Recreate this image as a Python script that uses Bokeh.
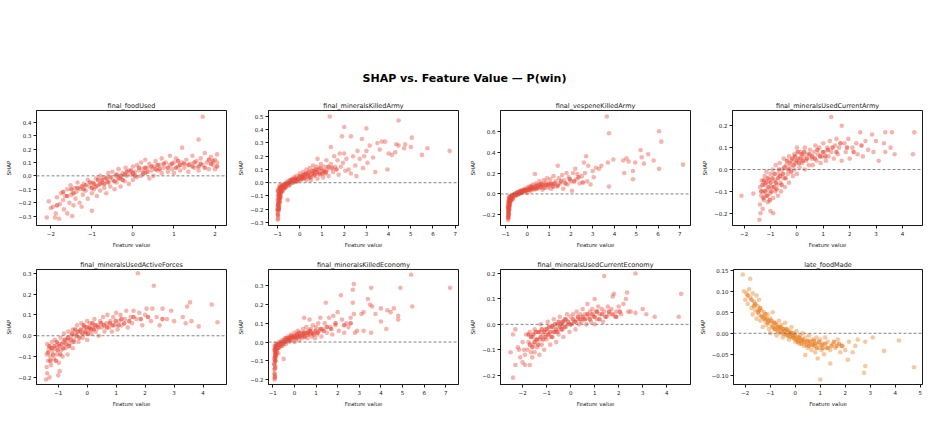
from bokeh.plotting import figure
from bokeh.models import Span, FixedTicker, CustomJSTickFormatter, Div, Range1d
from bokeh.layouts import column, row
from bokeh.embed import file_html
from bokeh.resources import INLINE

TITLE = "SHAP vs. Feature Value  \u2014  P(win)"
panel_titles = ["final_foodUsed", "final_mineralsKilledArmy", "final_vespeneKilledArmy",
                "final_mineralsUsedCurrentArmy", "final_mineralsUsedActiveForces",
                "final_mineralsKilledEconomy", "final_mineralsUsedCurrentEconomy", "late_foodMade"]

# ---- (feature value, SHAP) pairs, spread + outliers ----
food_used = [(-2.1,-0.31),(-2.05,-0.19),(-2.0,-0.24),(-1.95,-0.23),(-1.9,-0.31),(-1.88,-0.28),(-1.85,-0.16),
    (-1.8,-0.32),(-1.78,-0.21),(-1.75,-0.13),(-1.7,-0.18),(-1.68,-0.25),(-1.65,-0.15),(-1.6,-0.28),(-1.6,-0.1),
    (-1.55,-0.2),(-1.52,-0.07),(-1.5,-0.14),(-1.48,-0.3),(-1.45,-0.22),(-1.42,-0.09),(-1.4,-0.17),(-1.38,-0.12),
    (-1.35,-0.05),(-1.3,-0.2),(-1.3,-0.1),(-1.25,-0.23),(-1.22,-0.14),(-1.2,-0.06),(-1.15,-0.11),(-1.1,-0.17),
    (-1.1,-0.03),(-1.05,-0.08),(-1.0,-0.26),(-1.0,-0.13),(-0.98,-0.05),(-0.95,-0.1),(-0.9,-0.02),(-0.88,-0.15),
    (-0.85,-0.07),(-0.8,-0.11),(-0.8,0.0),(-0.75,-0.05),(-0.7,-0.09),(-0.7,-0.01),(-0.65,-0.13),(-0.62,-0.04),
    (-0.6,0.02),(-0.55,-0.08),(-0.5,-0.03),(-0.5,0.03),(-0.45,-0.1),(-0.42,0.0),(-0.4,-0.05),(-0.35,0.05),
    (-0.3,-0.02),(-0.3,-0.08),(-0.25,0.02),(-0.2,-0.04),(-0.18,0.06),(-0.15,0.0),(-0.1,-0.06),(-0.1,0.04),
    (-0.05,0.01),(0.0,0.07),(0.0,-0.03),(0.05,0.03),(0.1,-0.01),(0.1,0.08),(0.15,0.04),(0.2,0.0),(0.2,0.1),
    (0.25,0.05),(0.3,0.02),(0.3,0.12),(0.35,0.06),(0.4,-0.02),(0.4,0.09),(0.45,0.04),(0.5,0.07),(0.5,0.0),
    (0.55,0.11),(0.6,0.04),(0.65,0.08),(0.7,0.02),(0.7,0.13),(0.75,0.06),(0.8,0.1),(0.85,0.03),(0.9,0.08),
    (0.9,0.15),(0.95,0.05),(1.0,0.1),(1.0,0.02),(1.05,0.13),(1.1,0.07),(1.15,0.04),(1.2,0.21),(1.2,0.1),
    (1.25,0.06),(1.3,0.12),(1.35,0.03),(1.4,0.09),(1.45,0.15),(1.5,0.06),(1.55,0.11),(1.6,0.27),(1.6,0.04),
    (1.65,0.13),(1.7,0.44),(1.7,0.08),(1.75,0.17),(1.8,0.1),(1.85,0.05),(1.9,0.14),(1.95,0.08),(2.0,0.12),
    (2.0,0.05),(2.05,0.1),(2.05,0.16)]
food_used_core = [(-1.45,-0.13),(-1.35,-0.09),(-1.25,-0.08),(-1.15,-0.07),(-1.05,-0.05),(-0.95,-0.06),(-0.9,-0.08),
    (-0.85,-0.03),(-0.75,-0.03),(-0.7,-0.06),(-0.65,-0.02),(-0.6,-0.05),(-0.55,-0.01),(-0.45,-0.04),(-0.4,0.01),
    (-0.35,-0.02),(-0.25,-0.03),(-0.2,0.01),(-0.15,0.03),(-0.05,0.04),(0.05,0.0),(0.15,0.06),(0.25,0.02),
    (0.35,0.03),(0.45,0.07),(0.55,0.05),(0.6,0.08),(0.75,0.09),(0.85,0.06),(0.95,0.09),(1.05,0.06),(1.1,0.11),
    (1.25,0.09),(1.35,0.08),(1.45,0.07),(1.5,0.1),(1.65,0.09),(1.75,0.06),(1.85,0.12),(1.95,0.11),(2.05,0.07),
    (-1.6,-0.15),(-1.7,-0.12),(-1.85,-0.22),(-1.5,-0.1),(-1.2,-0.1),(-1.0,-0.09),(-0.8,-0.06),(-0.3,0.0),
    (0.0,0.02),(0.3,0.06),(0.65,0.05),(1.15,0.08),(1.6,0.07),(1.9,0.09)]

minerals_killed_army = [(-1.0,-0.28),(-0.98,-0.25),(-0.97,-0.27),(-1.0,-0.22),(-0.95,-0.2),(-0.99,-0.18),
    (-0.93,-0.17),(-0.97,-0.15),(-0.9,-0.14),(-1.0,-0.13),(-0.95,-0.12),(-0.88,-0.11),(-0.98,-0.1),(-0.92,-0.09),
    (-0.85,-0.08),(-0.96,-0.07),(-0.9,-0.06),(-0.82,-0.05),(-0.94,-0.04),(-0.86,-0.03),(-0.78,-0.04),(-0.9,-0.02),
    (-0.8,-0.02),(-0.75,-0.06),(-0.72,-0.03),(-0.7,-0.01),(-0.65,-0.04),(-0.62,0.0),(-0.6,-0.02),(-0.55,-0.13),
    (-0.55,0.01),(-0.5,-0.01),(-0.45,0.02),(-0.4,0.0),(-0.35,0.03),(-0.3,0.01),(-0.25,0.04),(-0.2,0.02),
    (-0.15,0.05),(-0.1,0.01),(-0.05,0.04),(0.0,0.03),(0.0,0.07),(0.05,0.02),(0.1,0.05),(0.15,0.08),(0.2,0.03),
    (0.25,0.06),(0.3,0.1),(0.3,0.02),(0.35,0.07),(0.4,0.04),(0.45,0.11),(0.5,0.06),(0.5,0.02),(0.55,0.09),
    (0.6,0.13),(0.65,0.05),(0.7,0.08),(0.75,0.12),(0.8,0.03),(0.8,0.18),(0.85,0.1),(0.9,0.06),(0.95,0.14),
    (1.0,0.09),(1.05,0.04),(1.1,0.12),(1.15,0.07),(1.2,0.17),(1.25,0.1),(1.3,0.05),(1.35,0.5),(1.4,0.14),
    (1.4,0.27),(1.5,0.08),(1.55,0.2),(1.6,0.12),(1.7,0.17),(1.75,0.06),(1.8,0.22),(1.85,0.12),(1.9,0.35),
    (1.95,0.15),(2.0,0.42),(2.0,0.22),(2.05,0.09),(2.1,0.18),(2.2,0.1),(2.3,0.35),(2.3,0.07),(2.4,0.2),
    (2.5,0.13),(2.55,0.05),(2.6,0.24),(2.7,0.18),(2.8,0.33),(2.85,0.11),(2.9,0.2),(3.0,0.41),(3.0,0.24),
    (3.05,0.15),(3.15,0.28),(3.3,0.19),(3.4,0.08),(3.5,0.3),(3.6,0.25),(3.7,0.31),(3.85,0.31),(3.95,0.1),
    (4.0,0.22),(4.15,0.21),(4.3,0.23),(4.35,0.29),(4.45,0.47),(4.45,0.28),(4.7,0.26),(4.75,0.29),(5.0,0.27),
    (5.05,0.34),(5.5,0.21),(5.75,0.26),(6.75,0.24)]
minerals_killed_army_core = [(-0.99,-0.24),(-0.96,-0.21),(-0.93,-0.19),(-0.97,-0.16),(-0.91,-0.15),(-0.95,-0.13),
    (-0.89,-0.12),(-0.93,-0.11),(-0.87,-0.1),(-0.91,-0.08),(-0.84,-0.07),(-0.88,-0.05),(-0.8,-0.06),(-0.84,-0.03),
    (-0.76,-0.02),(-0.7,-0.04),(-0.68,-0.02),(-0.63,-0.03),(-0.58,-0.01),(-0.52,0.0),(-0.48,-0.02),(-0.42,0.01),
    (-0.38,0.02),(-0.32,0.0),(-0.28,0.02),(-0.22,0.03),(-0.18,0.01),(-0.12,0.03),(-0.08,0.02),(0.02,0.05),
    (0.08,0.03),(0.12,0.04),(0.18,0.06),(0.22,0.04),(0.28,0.07),(0.38,0.05),(0.42,0.08),(0.48,0.04),(0.58,0.07),
    (0.62,0.09),(0.68,0.06),(0.72,0.1),(0.78,0.08),(0.88,0.07),(0.92,0.11),(1.02,0.07),(1.08,0.09),(1.18,0.08),
    (1.28,0.12),(1.45,0.11),(1.65,0.1),(-1.0,-0.2),(-0.98,-0.17),(-0.95,-0.09),(-0.9,-0.04),(-0.99,-0.06)]

vespene_killed_army = [(-0.88,-0.25),(-0.86,-0.22),(-0.85,-0.2),(-0.88,-0.18),(-0.84,-0.16),(-0.87,-0.14),
    (-0.82,-0.13),(-0.86,-0.11),(-0.8,-0.1),(-0.88,-0.09),(-0.83,-0.08),(-0.78,-0.07),(-0.86,-0.06),(-0.8,-0.05),
    (-0.75,-0.04),(-0.85,-0.03),(-0.72,-0.03),(-0.78,-0.02),(-0.68,-0.01),(-0.65,-0.04),(-0.6,0.0),(-0.55,-0.02),
    (-0.5,0.01),(-0.45,-0.01),(-0.4,0.02),(-0.35,0.0),(-0.3,0.03),(-0.25,0.01),(-0.2,0.04),(-0.15,0.02),
    (-0.1,0.05),(-0.05,0.03),(0.0,0.06),(0.0,0.01),(0.05,0.04),(0.1,0.07),(0.15,0.03),(0.2,0.06),(0.25,0.09),
    (0.3,0.04),(0.35,0.19),(0.35,0.07),(0.4,0.1),(0.45,0.05),(0.5,0.08),(0.55,0.12),(0.6,0.06),(0.65,0.1),
    (0.7,0.04),(0.75,0.13),(0.8,0.08),(0.85,0.11),(0.9,0.15),(0.95,0.06),(1.0,0.1),(1.05,0.14),(1.1,0.05),
    (1.15,0.09),(1.2,0.17),(1.3,0.12),(1.35,0.07),(1.4,0.27),(1.45,0.15),(1.5,0.1),(1.6,0.18),(1.65,0.05),
    (1.7,0.13),(1.8,0.2),(1.85,0.09),(1.9,0.16),(2.0,0.12),(2.05,0.03),(2.1,0.2),(2.2,0.24),(2.25,0.14),
    (2.3,0.19),(2.4,0.1),(2.5,0.17),(2.6,0.3),(2.65,0.2),(2.7,0.36),(2.75,0.12),(2.8,0.27),(2.9,0.09),
    (3.0,0.22),(3.05,0.16),(3.15,0.25),(3.3,0.24),(3.4,0.27),(3.65,0.74),(3.7,0.3),(3.75,0.58),(3.75,0.07),
    (3.95,0.33),(4.4,0.32),(4.45,0.2),(4.55,0.34),(4.65,0.31),(4.85,0.22),(4.85,0.14),(4.95,0.3),(5.2,0.42),
    (5.25,0.35),(5.35,0.29),(5.55,0.38),(5.8,0.32),(6.05,0.6),(6.05,0.24),(6.15,0.5),(7.15,0.28)]
vespene_killed_army_core = [(-0.87,-0.23),(-0.85,-0.19),(-0.87,-0.17),(-0.83,-0.15),(-0.86,-0.12),(-0.81,-0.11),
    (-0.85,-0.1),(-0.79,-0.08),(-0.84,-0.07),(-0.76,-0.06),(-0.82,-0.04),(-0.74,-0.02),(-0.7,-0.03),(-0.66,-0.02),
    (-0.62,-0.01),(-0.58,0.0),(-0.52,-0.01),(-0.48,0.01),(-0.42,0.0),(-0.38,0.02),(-0.32,0.01),(-0.28,0.03),
    (-0.22,0.02),(-0.18,0.03),(-0.12,0.04),(-0.08,0.03),(0.02,0.04),(0.08,0.05),(0.12,0.04),(0.18,0.07),
    (0.22,0.05),(0.28,0.06),(0.38,0.05),(0.42,0.08),(0.48,0.06),(0.58,0.09),(0.62,0.07),(0.7,0.09),(0.78,0.06),
    (0.88,0.09),(0.98,0.08),(1.08,0.1),(1.18,0.07),(1.25,0.1),(1.4,0.08),(1.55,0.12),(1.75,0.1),(1.95,0.14),
    (2.15,0.12),(2.35,0.16),(2.55,0.11),(-0.88,-0.21),(-0.86,-0.15),(-0.88,-0.13),(-0.8,-0.06),(-0.68,-0.05)]

minerals_used_current_army = [(-2.1,-0.12),(-1.65,-0.11),(-1.42,-0.23),(-1.38,-0.2),(-1.4,-0.16),(-1.35,-0.12),
    (-1.4,-0.08),(-1.33,-0.05),(-1.3,-0.18),(-1.28,-0.1),(-1.25,-0.14),(-1.22,-0.03),(-1.2,-0.07),(-1.18,-0.12),
    (-1.15,-0.01),(-1.12,-0.09),(-1.1,-0.15),(-1.05,-0.05),(-1.02,-0.11),(-1.0,-0.19),(-1.0,-0.02),(-0.95,-0.08),
    (-0.92,0.0),(-0.9,-0.2),(-0.9,-0.13),(-0.85,-0.05),(-0.82,-0.1),(-0.8,0.02),(-0.75,-0.07),(-0.72,-0.12),
    (-0.7,-0.02),(-0.65,0.03),(-0.62,-0.06),(-0.6,-0.1),(-0.55,0.0),(-0.5,-0.04),(-0.5,0.05),(-0.45,-0.08),
    (-0.4,0.02),(-0.35,-0.02),(-0.3,0.06),(-0.3,-0.06),(-0.25,0.01),(-0.2,0.04),(-0.15,-0.03),(-0.1,0.07),
    (-0.1,0.0),(-0.05,0.03),(0.0,0.1),(0.0,-0.02),(0.05,0.05),(0.1,0.01),(0.15,0.08),(0.2,0.03),(0.25,0.06),
    (0.3,0.0),(0.3,0.1),(0.35,0.04),(0.4,0.07),(0.45,0.02),(0.5,0.09),(0.55,0.05),(0.6,0.02),(0.65,0.08),
    (0.7,0.11),(0.75,0.04),(0.8,0.07),(0.85,0.1),(0.9,0.03),(0.95,0.06),(1.0,0.12),(1.05,0.08),(1.1,0.04),
    (1.15,0.1),(1.2,0.06),(1.25,0.13),(1.3,0.24),(1.3,0.08),(1.4,0.05),(1.45,0.11),(1.5,0.14),(1.55,0.07),
    (1.6,0.1),(1.7,0.2),(1.7,0.04),(1.8,0.12),(1.85,0.08),(1.95,0.14),(2.0,0.05),(2.1,0.1),(2.25,0.12),
    (2.3,0.07),(2.4,0.17),(2.5,0.06),(2.6,0.13),(2.7,0.09),(2.85,0.16),(2.9,0.08),(3.0,0.13),(3.1,0.04),
    (3.3,0.12),(3.35,0.17),(3.35,0.08),(3.55,0.1),(3.6,0.17),(3.7,0.07),(4.4,0.07),(4.45,0.17)]
minerals_used_current_army_core = [(-1.35,-0.1),(-1.3,-0.07),(-1.27,-0.13),(-1.25,-0.05),(-1.2,-0.1),(-1.17,-0.06),
    (-1.12,-0.12),(-1.1,-0.04),(-1.07,-0.08),(-1.03,-0.14),(-1.0,-0.06),(-0.97,-0.1),(-0.93,-0.04),(-0.88,-0.08),
    (-0.85,-0.02),(-0.8,-0.06),(-0.77,-0.09),(-0.72,-0.04),(-0.68,0.0),(-0.63,-0.03),(-0.58,-0.07),(-0.53,-0.02),
    (-0.47,0.01),(-0.43,-0.04),(-0.38,0.04),(-0.33,0.0),(-0.27,0.03),(-0.22,-0.01),(-0.17,0.05),(-0.12,0.02),
    (-0.07,0.06),(-0.02,0.04),(0.03,0.08),(0.08,0.03),(0.13,0.05),(0.18,0.07),(0.23,0.04),(0.28,0.08),(0.38,0.05),
    (0.48,0.07),(0.58,0.06),(0.68,0.05),(0.78,0.09),(0.88,0.06),(0.98,0.08),(1.08,0.06),(1.18,0.09),(1.35,0.1),
    (1.5,0.08),(1.65,0.12),(1.9,0.1),(2.15,0.08),(2.45,0.11)]

minerals_used_active_forces = [(-1.42,-0.21),(-1.38,-0.18),(-1.4,-0.15),(-1.35,-0.12),(-1.4,-0.09),(-1.32,-0.06),
    (-1.38,-0.04),(-1.3,-0.2),(-1.28,-0.1),(-1.25,-0.14),(-1.22,-0.03),(-1.2,-0.07),(-1.15,-0.11),(-1.12,-0.02),
    (-1.1,-0.06),(-1.05,-0.09),(-1.0,-0.19),(-1.0,-0.04),(-0.98,-0.13),(-0.95,-0.17),(-0.92,-0.01),(-0.9,-0.07),
    (-0.85,-0.1),(-0.82,-0.03),(-0.8,0.01),(-0.75,-0.06),(-0.7,-0.02),(-0.68,-0.09),(-0.65,0.02),(-0.6,-0.04),
    (-0.55,0.0),(-0.5,-0.06),(-0.5,0.03),(-0.45,-0.02),(-0.4,0.01),(-0.35,0.05),(-0.3,-0.03),(-0.25,0.02),
    (-0.2,0.06),(-0.15,-0.01),(-0.1,0.04),(-0.05,0.01),(0.0,0.07),(0.0,-0.02),(0.05,0.03),(0.1,0.06),(0.15,0.01),
    (0.2,0.04),(0.25,0.08),(0.3,0.02),(0.35,0.05),(0.4,0.0),(0.45,0.07),(0.5,0.04),(0.55,0.09),(0.6,0.02),
    (0.65,0.06),(0.7,0.1),(0.75,0.04),(0.8,0.07),(0.85,0.02),(0.9,0.09),(0.95,0.05),(1.0,0.11),(1.05,0.03),
    (1.1,0.07),(1.15,0.1),(1.2,0.05),(1.3,0.08),(1.35,0.12),(1.4,0.04),(1.5,0.09),(1.55,0.06),(1.6,0.12),
    (1.7,0.08),(1.75,0.3),(1.8,0.11),(1.9,0.05),(2.0,0.1),(2.05,0.13),(2.2,0.07),(2.25,0.13),(2.3,0.24),
    (2.4,0.09),(2.5,0.05),(2.6,0.13),(2.75,0.08),(2.9,0.12),(3.0,0.07),(3.3,0.09),(3.4,0.06),(3.45,0.14),
    (3.55,0.16),(3.6,0.07),(3.85,0.045),(4.3,0.15),(4.5,0.065)]
minerals_used_active_forces_core = [(-1.35,-0.08),(-1.3,-0.05),(-1.27,-0.12),(-1.23,-0.06),(-1.18,-0.09),
    (-1.13,-0.05),(-1.08,-0.12),(-1.05,-0.03),(-1.02,-0.07),(-0.97,-0.05),(-0.93,-0.09),(-0.88,-0.04),(-0.83,-0.06),
    (-0.78,-0.02),(-0.73,-0.04),(-0.67,-0.01),(-0.63,-0.05),(-0.57,-0.02),(-0.52,0.01),(-0.47,-0.03),(-0.42,0.03),
    (-0.37,0.0),(-0.32,0.02),(-0.27,-0.01),(-0.22,0.03),(-0.17,0.01),(-0.12,0.05),(-0.07,0.02),(-0.02,0.04),
    (0.03,0.01),(0.08,0.04),(0.13,0.03),(0.18,0.06),(0.23,0.03),(0.28,0.05),(0.38,0.04),(0.48,0.06),(0.58,0.05),
    (0.68,0.04),(0.78,0.06),(0.88,0.05),(0.98,0.07),(1.08,0.05),(1.18,0.08),(1.28,0.06),(1.45,0.07),(1.6,0.09),
    (1.85,0.08),(2.1,0.09),(2.6,0.08)]

minerals_killed_economy = [(-0.92,-0.2),(-0.9,-0.18),(-0.93,-0.15),(-0.88,-0.13),(-0.92,-0.11),(-0.87,-0.1),
    (-0.91,-0.08),(-0.85,-0.07),(-0.9,-0.06),(-0.83,-0.05),(-0.88,-0.04),(-0.8,-0.03),(-0.92,-0.02),(-0.78,-0.02),
    (-0.85,-0.01),(-0.75,-0.06),(-0.72,0.0),(-0.7,-0.03),(-0.65,-0.01),(-0.6,0.01),(-0.55,-0.02),(-0.5,-0.09),
    (-0.5,0.0),(-0.45,0.02),(-0.4,-0.01),(-0.35,0.01),(-0.3,0.03),(-0.25,0.0),(-0.2,0.02),(-0.15,0.04),
    (-0.1,0.01),(-0.05,0.03),(0.0,0.05),(0.0,0.0),(0.05,0.02),(0.1,0.04),(0.15,0.06),(0.2,0.01),(0.25,0.03),
    (0.3,0.05),(0.35,0.02),(0.4,0.07),(0.45,0.13),(0.45,0.03),(0.5,0.05),(0.55,0.08),(0.6,0.02),(0.65,0.06),
    (0.7,0.12),(0.7,0.04),(0.75,0.07),(0.8,0.03),(0.85,0.09),(0.9,0.05),(0.95,0.02),(1.0,0.08),(1.05,0.04),
    (1.1,0.1),(1.15,0.06),(1.2,0.13),(1.25,0.03),(1.3,0.07),(1.4,0.1),(1.45,0.21),(1.5,0.05),(1.6,0.13),
    (1.65,0.08),(1.75,0.04),(1.8,0.14),(1.9,0.09),(2.0,0.16),(2.05,0.06),(2.15,0.25),(2.2,0.12),(2.3,0.05),
    (2.4,0.1),(2.5,0.08),(2.6,0.13),(2.7,0.21),(2.7,0.28),(2.75,0.31),(2.75,0.15),(2.8,0.05),(2.9,0.06),
    (3.1,0.15),(3.2,0.16),(3.2,0.06),(3.4,0.23),(3.5,0.2),(3.55,0.29),(3.55,0.05),(3.6,0.19),(3.75,0.15),
    (4.0,0.18),(4.0,0.11),(4.25,0.07),(4.3,0.17),(4.45,0.16),(4.6,0.18),(4.8,0.14),(4.8,0.12),(4.9,0.29),
    (5.4,0.36),(5.45,0.19),(7.2,0.29)]
minerals_killed_economy_core = [(-0.92,-0.17),(-0.9,-0.14),(-0.93,-0.12),(-0.89,-0.1),(-0.92,-0.09),(-0.87,-0.08),
    (-0.9,-0.05),(-0.84,-0.06),(-0.88,-0.03),(-0.82,-0.04),(-0.78,-0.01),(-0.74,-0.03),(-0.68,-0.01),(-0.62,-0.02),
    (-0.58,0.0),(-0.52,-0.01),(-0.48,0.01),(-0.42,0.0),(-0.38,0.02),(-0.32,0.01),(-0.28,0.02),(-0.22,0.01),
    (-0.18,0.03),(-0.12,0.02),(-0.08,0.03),(0.02,0.03),(0.08,0.02),(0.12,0.04),(0.18,0.03),(0.22,0.05),
    (0.28,0.03),(0.38,0.04),(0.42,0.05),(0.48,0.03),(0.58,0.05),(0.62,0.04),(0.72,0.06),(0.78,0.05),(0.88,0.04),
    (0.98,0.06),(1.08,0.05),(1.2,0.07),(1.35,0.06),(1.5,0.08),(1.7,0.07),(1.9,0.1),(2.3,0.09),(2.6,0.1),
    (-0.91,-0.19),(-0.89,-0.07),(-0.92,-0.04),(-0.86,-0.02)]

minerals_used_current_economy = [(-2.5,-0.11),(-2.4,-0.21),(-2.4,-0.04),(-2.3,-0.16),(-2.3,-0.02),(-2.2,-0.09),
    (-2.15,-0.1),(-2.1,-0.13),(-2.0,-0.07),(-2.0,-0.15),(-1.95,-0.1),(-1.9,-0.16),(-1.9,-0.12),(-1.85,-0.04),
    (-1.8,-0.1),(-1.75,-0.07),(-1.7,-0.16),(-1.7,-0.03),(-1.65,-0.11),(-1.6,-0.13),(-1.6,-0.05),(-1.55,-0.08),
    (-1.5,-0.02),(-1.5,-0.11),(-1.45,-0.06),(-1.4,-0.09),(-1.35,-0.03),(-1.3,-0.12),(-1.3,-0.06),(-1.25,0.0),
    (-1.2,-0.08),(-1.15,-0.04),(-1.1,-0.1),(-1.05,-0.02),(-1.0,-0.06),(-0.95,0.01),(-0.9,-0.04),(-0.85,-0.08),
    (-0.8,-0.01),(-0.75,-0.05),(-0.7,0.02),(-0.65,-0.03),(-0.6,-0.07),(-0.55,0.0),(-0.5,-0.04),(-0.45,0.03),
    (-0.4,-0.02),(-0.35,0.01),(-0.3,-0.05),(-0.25,0.02),(-0.2,-0.01),(-0.15,0.04),(-0.1,0.0),(-0.05,-0.03),
    (0.0,0.03),(0.05,0.0),(0.1,0.04),(0.15,0.01),(0.2,-0.02),(0.25,0.05),(0.3,0.02),(0.35,0.0),(0.4,0.04),
    (0.45,0.01),(0.5,0.06),(0.55,0.02),(0.6,0.04),(0.65,0.0),(0.7,0.08),(0.75,0.03),(0.8,0.05),(0.85,0.01),
    (0.9,0.06),(0.95,0.03),(1.0,0.1),(1.0,0.0),(1.05,0.05),(1.1,0.02),(1.15,0.07),(1.2,0.04),(1.3,0.06),
    (1.35,0.01),(1.4,0.19),(1.4,0.05),(1.5,0.03),(1.55,0.07),(1.6,0.04),(1.7,0.06),(1.75,0.11),(1.8,0.12),
    (1.85,0.03),(1.9,0.05),(2.0,0.07),(2.1,0.04),(2.2,0.08),(2.3,0.1),(2.35,0.125),(2.4,0.05),(2.5,0.05),
    (2.7,0.2),(2.7,0.045),(3.0,0.06),(3.15,0.04),(3.5,0.03),(4.5,0.03),(4.6,0.12)]
minerals_used_current_economy_core = [(-1.75,-0.04),(-1.7,-0.08),(-1.65,-0.05),(-1.6,-0.09),(-1.55,-0.04),
    (-1.5,-0.07),(-1.45,-0.03),(-1.4,-0.06),(-1.35,-0.08),(-1.3,-0.03),(-1.25,-0.05),(-1.2,-0.02),(-1.15,-0.06),
    (-1.1,-0.03),(-1.05,-0.05),(-1.0,-0.02),(-0.95,-0.04),(-0.9,-0.01),(-0.85,-0.03),(-0.8,-0.05),(-0.75,-0.01),
    (-0.7,-0.03),(-0.65,0.0),(-0.6,-0.02),(-0.55,-0.03),(-0.5,0.01),(-0.45,-0.01),(-0.4,0.0),(-0.35,-0.02),
    (-0.3,0.01),(-0.25,-0.01),(-0.2,0.02),(-0.1,0.01),(0.0,0.0),(0.1,0.02),(0.2,0.01),(0.3,0.03),(0.4,0.02),
    (0.5,0.03),(0.6,0.02),(0.7,0.04),(0.8,0.02),(0.9,0.04),(1.0,0.03),(1.1,0.05),(1.2,0.02),(1.3,0.04),
    (1.45,0.03),(1.6,0.05),(1.75,0.04),(1.9,0.03),(2.05,0.05)]

late_food_made = [(-2.1,0.14),(-2.05,0.1),(-2.0,0.08),(-1.95,0.095),(-1.9,0.07),(-1.85,0.105),(-1.8,0.13),
    (-1.8,0.085),(-1.75,0.06),(-1.7,0.095),(-1.7,0.045),(-1.65,0.075),(-1.6,0.055),(-1.55,0.09),(-1.55,0.035),
    (-1.5,0.065),(-1.45,0.08),(-1.45,0.045),(-1.4,0.03),(-1.35,0.055),(-1.3,0.04),(-1.3,0.015),(-1.25,0.05),
    (-1.2,0.03),(-1.15,0.02),(-1.1,0.045),(-1.05,0.01),(-1.0,0.035),(-1.0,0.0),(-0.95,0.02),(-0.9,0.05),
    (-0.85,0.01),(-0.8,0.025),(-0.75,-0.005),(-0.7,0.015),(-0.65,0.03),(-0.6,0.0),(-0.55,0.02),(-0.5,-0.01),
    (-0.45,0.01),(-0.4,0.025),(-0.35,-0.005),(-0.3,0.008),(-0.25,-0.015),(-0.2,0.005),(-0.15,0.015),(-0.1,-0.01),
    (-0.05,0.0),(0.0,-0.02),(0.05,0.005),(0.1,-0.01),(0.15,-0.025),(0.2,-0.005),(0.25,-0.015),(0.3,0.0),
    (0.35,-0.03),(0.4,-0.052),(0.4,-0.01),(0.45,-0.02),(0.5,-0.035),(0.55,-0.005),(0.6,-0.025),(0.65,-0.04),
    (0.7,-0.015),(0.75,-0.03),(0.8,-0.045),(0.85,-0.01),(0.9,-0.06),(0.9,-0.025),(0.95,-0.035),(1.0,-0.11),
    (1.0,-0.015),(1.05,-0.04),(1.1,-0.025),(1.15,-0.05),(1.2,-0.01),(1.25,-0.035),(1.3,-0.02),(1.4,-0.072),
    (1.4,-0.04),(1.5,-0.025),(1.6,-0.035),(1.7,-0.015),(1.8,-0.045),(1.9,-0.03),(2.0,-0.04),(2.1,-0.063),
    (2.15,-0.02),(2.3,-0.045),(2.4,-0.03),(2.5,-0.015),(2.8,-0.02),(2.75,-0.094),(2.8,-0.078),(3.1,-0.01),
    (3.55,-0.042),(4.15,-0.017),(4.75,-0.081)]
late_food_made_core = [(-1.6,0.07),(-1.5,0.05),(-1.4,0.06),(-1.35,0.04),(-1.25,0.035),(-1.2,0.045),(-1.15,0.035),
    (-1.1,0.025),(-1.05,0.03),(-0.95,0.03),(-0.9,0.015),(-0.85,0.025),(-0.8,0.01),(-0.75,0.02),(-0.7,0.005),
    (-0.65,0.012),(-0.6,0.015),(-0.55,0.005),(-0.5,0.01),(-0.45,-0.002),(-0.4,0.005),(-0.35,0.01),(-0.3,-0.005),
    (-0.25,0.002),(-0.2,-0.008),(-0.15,0.0),(-0.1,-0.005),(-0.05,-0.012),(0.0,-0.005),(0.05,-0.015),(0.1,-0.02),
    (0.15,-0.01),(0.2,-0.018),(0.25,-0.025),(0.3,-0.015),(0.35,-0.02),(0.45,-0.028),(0.5,-0.018),(0.55,-0.03),
    (0.6,-0.02),(0.7,-0.028),(0.75,-0.018),(0.8,-0.025),(0.85,-0.035),(0.95,-0.02),(1.05,-0.028),(1.1,-0.035),
    (1.2,-0.025),(1.3,-0.035),(1.45,-0.03),(1.55,-0.02),(1.65,-0.03),(1.75,-0.025),(1.85,-0.03),(-1.9,0.09),
    (-1.75,0.08),(-1.65,0.065),(-1.45,0.055)]

spread_sets = [food_used, minerals_killed_army, vespene_killed_army, minerals_used_current_army,
               minerals_used_active_forces, minerals_killed_economy, minerals_used_current_economy, late_food_made]
core_sets = [food_used_core, minerals_killed_army_core, vespene_killed_army_core, minerals_used_current_army_core,
             minerals_used_active_forces_core, minerals_killed_economy_core, minerals_used_current_economy_core,
             late_food_made_core]

x_ranges = [(-2.35, 2.28), (-1.41, 7.15), (-1.23, 7.49), (-2.44, 4.76),
            (-1.75, 4.81), (-1.2, 7.59), (-2.92, 4.99), (-2.47, 5.09)]
y_ranges = [(-0.37, 0.487), (-0.323, 0.545), (-0.302, 0.798), (-0.256, 0.270),
            (-0.234, 0.318), (-0.227, 0.388), (-0.237, 0.216), (-0.122, 0.152)]
x_ticks = [[-2, -1, 0, 1, 2], [-1, 0, 1, 2, 3, 4, 5, 6, 7], [-1, 0, 1, 2, 3, 4, 5, 6, 7], [-2, -1, 0, 1, 2, 3, 4],
           [-1, 0, 1, 2, 3, 4], [-1, 0, 1, 2, 3, 4, 5, 6, 7], [-2, -1, 0, 1, 2, 3, 4], [-2, -1, 0, 1, 2, 3, 4, 5]]
y_ticks = [[-0.3, -0.2, -0.1, 0.0, 0.1, 0.2, 0.3, 0.4], [-0.3, -0.2, -0.1, 0.0, 0.1, 0.2, 0.3, 0.4, 0.5],
           [-0.2, 0.0, 0.2, 0.4, 0.6], [-0.2, -0.1, 0.0, 0.1, 0.2],
           [-0.2, -0.1, 0.0, 0.1, 0.2, 0.3], [-0.2, -0.1, 0.0, 0.1, 0.2, 0.3],
           [-0.2, -0.1, 0.0, 0.1, 0.2], [-0.10, -0.05, 0.0, 0.05, 0.10, 0.15]]
y_decimals = [1, 1, 1, 1, 1, 1, 1, 2]
colors = ["#e74c3c"] * 7 + ["#e67e22"]

FONT = "DejaVu Sans"
INK = "#1a1a1a"


def fmt(d):
    return CustomJSTickFormatter(code="return tick.toFixed(%d).replace('-', '\u2212');" % d)


def make_panel(i):
    p = figure(width=232, height=159, output_backend="svg", toolbar_location=None,
               x_range=Range1d(*x_ranges[i]), y_range=Range1d(*y_ranges[i]),
               min_border_left=36, min_border_right=6, min_border_top=15, min_border_bottom=29,
               title=panel_titles[i])
    p.title.text_font = FONT
    p.title.text_font_size = "6.5px"
    p.title.text_font_style = "normal"
    p.title.align = "center"
    p.title.standoff = 2
    p.title.text_color = INK
    p.grid.visible = False
    p.outline_line_color = INK
    p.outline_line_width = 1
    p.outline_line_alpha = 1
    p.background_fill_color = "white"
    p.border_fill_color = "white"
    spread = spread_sets[i]
    core = core_sets[i]
    p.scatter([q[0] for q in spread], [q[1] for q in spread], size=4.6,
              fill_color=colors[i], fill_alpha=0.42, line_color=None)
    p.scatter([q[0] for q in core], [q[1] for q in core], size=4.6,
              fill_color=colors[i], fill_alpha=0.65, line_color=None)
    p.add_layout(Span(location=0, dimension="width", line_color="#666666", line_dash="3 2", line_width=0.8))
    p.xaxis.ticker = FixedTicker(ticks=x_ticks[i])
    p.yaxis.ticker = FixedTicker(ticks=y_ticks[i])
    p.xaxis.formatter = fmt(0)
    p.yaxis.formatter = fmt(y_decimals[i])
    p.xaxis.axis_label = "Feature value"
    p.yaxis.axis_label = "SHAP"
    for ax in (p.xaxis[0], p.yaxis[0]):
        ax.axis_label_text_font = FONT
        ax.axis_label_text_font_size = "5.5px"
        ax.axis_label_text_font_style = "normal"
        ax.axis_label_text_color = INK
        ax.major_label_text_font = FONT
        ax.major_label_text_font_size = "5.5px"
        ax.major_label_text_color = INK
        ax.major_tick_out = 3
        ax.major_tick_in = 0
        ax.minor_tick_out = 0
        ax.minor_tick_in = 0
        ax.major_label_standoff = 2
        ax.axis_label_standoff = 3
        ax.axis_line_color = INK
        ax.major_tick_line_color = INK
    return p


panels = [make_panel(i) for i in range(8)]

header = Div(text='<div style="width:929px;text-align:center;padding-top:71px;'
                  'font-family:DejaVu Sans;font-weight:bold;font-size:11px;color:#000;">'
                  + TITLE + '</div>', width=929, height=95, margin=(0, 0, 0, 0))

layout = column(header, row(*panels[:4], spacing=0), row(*panels[4:], spacing=0), spacing=0)

with open("out.html", "w") as f:
    f.write(file_html(layout, INLINE))
